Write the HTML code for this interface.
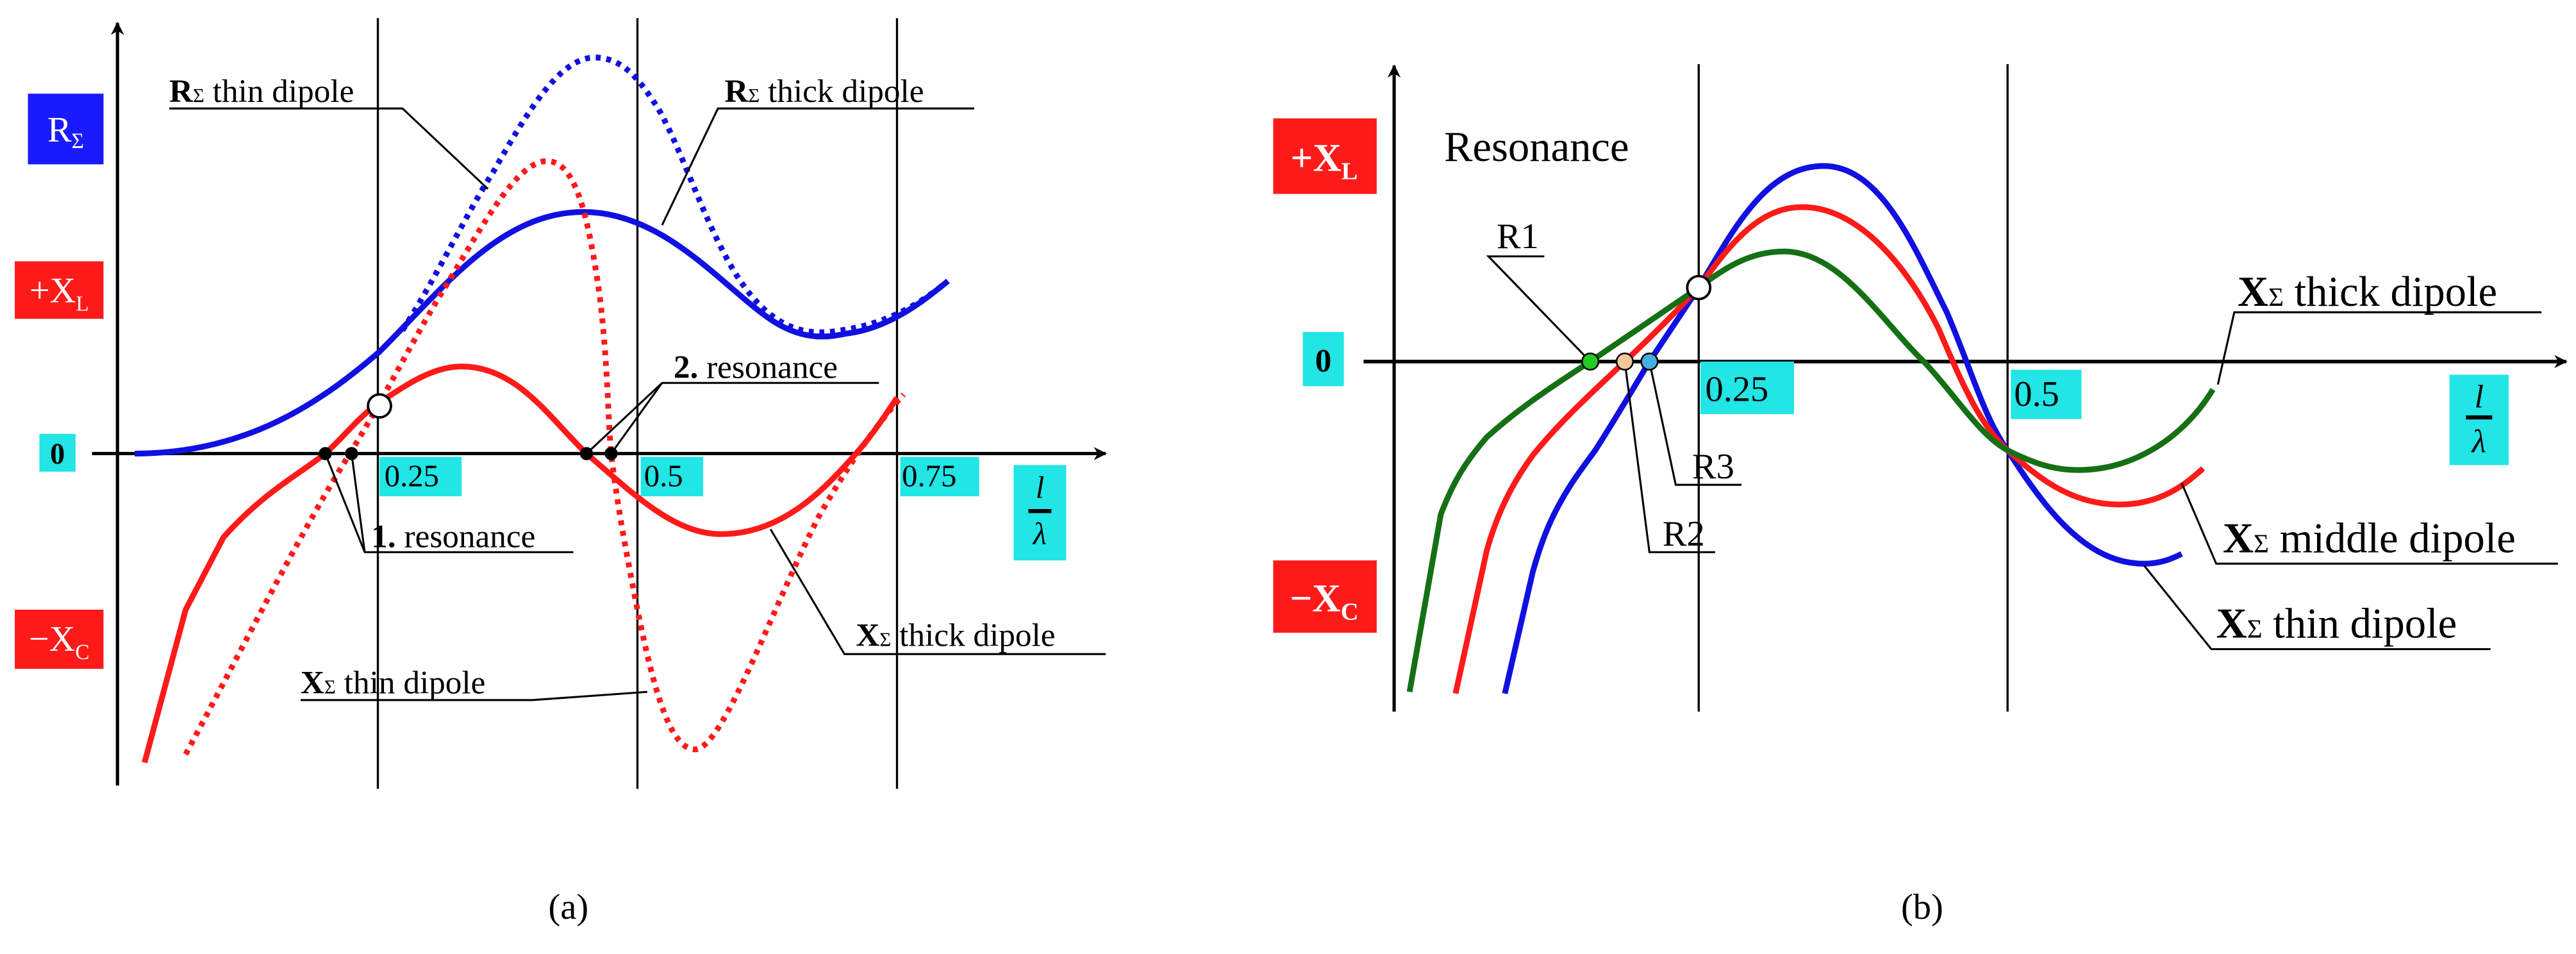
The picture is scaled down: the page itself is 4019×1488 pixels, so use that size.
<!DOCTYPE html>
<html><head><meta charset="utf-8"><style>
html,body{margin:0;padding:0;background:#fff;}
svg{display:block;}
text{font-family:"Liberation Serif",serif;}
</style></head><body>
<svg width="4019" height="1488" viewBox="0 0 1568 580.5" preserveAspectRatio="none" xmlns="http://www.w3.org/2000/svg" font-family="Liberation Serif, serif" style="font-family:'Liberation Serif',serif">
<defs>
<marker id="ar" viewBox="0 0 10 10" refX="9" refY="5" markerWidth="8" markerHeight="8" orient="auto" markerUnits="userSpaceOnUse"><path d="M0,0 L10,5 L0,10 L3,5 z" fill="#000"/></marker>
</defs>
<!-- ========== PANEL A ========== -->
<g stroke="#000" stroke-width="1.3" fill="none">
<line x1="230" y1="11" x2="230" y2="480"/>
<line x1="388" y1="11" x2="388" y2="480"/>
<line x1="546" y1="11" x2="546" y2="480"/>
</g>
<line x1="71.5" y1="478" x2="71.5" y2="14" stroke="#000" stroke-width="2" marker-end="url(#ar)"/>
<line x1="56" y1="276" x2="673" y2="276" stroke="#000" stroke-width="2" marker-end="url(#ar)"/>
<!-- boxes -->
<rect x="17" y="57" width="46" height="43" fill="#1a1aff"/>
<text x="40" y="86" fill="#fff" font-size="22" text-anchor="middle">R<tspan font-size="13" dy="4">Σ</tspan></text>
<rect x="9" y="159" width="54" height="35" fill="#ff1a1a"/>
<text x="36" y="184" fill="#fff" font-size="22" text-anchor="middle">+X<tspan font-size="13" dy="5">L</tspan></text>
<rect x="9" y="371" width="54" height="36" fill="#ff1a1a"/>
<text x="36" y="396" fill="#fff" font-size="22" text-anchor="middle">−X<tspan font-size="13" dy="5">C</tspan></text>
<rect x="24" y="264" width="22" height="23" fill="#22e5e5"/>
<text x="35" y="282" font-size="18" text-anchor="middle" font-weight="bold">0</text>
<rect x="231" y="278" width="50" height="24" fill="#22e5e5"/>
<text x="234" y="296" font-size="19">0.25</text>
<rect x="390" y="278" width="38" height="24" fill="#22e5e5"/>
<text x="392" y="296" font-size="19">0.5</text>
<rect x="548" y="278" width="48" height="24" fill="#22e5e5"/>
<text x="549" y="296" font-size="19">0.75</text>
<rect x="617" y="283" width="32" height="58" fill="#22e5e5"/>
<text x="633" y="303" font-size="19" font-style="italic" text-anchor="middle">l</text>
<line x1="626" y1="311" x2="640" y2="311" stroke="#000" stroke-width="2.5"/>
<text x="633" y="331" font-size="19" font-style="italic" text-anchor="middle">λ</text>
<!-- curves -->
<path d="M82,276 C150,276 195,245 231,214 C270,175 305,129 355,129 C405,129 440,175 470,195 C490,208 505,205 515,203 C540,200 560,185 577,171" stroke="#1010e0" stroke-width="3.5" fill="none"/>
<path d="M245,201 C265,170 285,128 300,105 C320,70 340,35 362,35 C380,35 390,50 400,65 C415,90 430,140 450,170 C470,200 490,205 512,201 C540,197 560,185 577,171" stroke="#1010e0" stroke-width="3.5" stroke-dasharray="3,3.5" fill="none"/>
<path d="M88,464 L113,371 L136,327 C160,300 180,290 198,276 C210,265 220,252 231,245 C250,232 265,223 281,223 C315,223 335,255 357,276 C385,300 410,325 439,325 C475,325 500,300 521,276 C530,266 538,254 546,242" stroke="#ff1a1a" stroke-width="3.5" fill="none"/>
<path d="M113,459 C150,390 185,320 213,276 C235,240 255,200 272,173 C295,135 315,98 333,98 C350,98 358,130 365,180 C370,220 370,255 372,276 C376,310 382,340 388,371 C398,420 408,456 423,456 C440,456 470,370 498,315 C515,285 532,260 550,240" stroke="#ff1a1a" stroke-width="3.5" stroke-dasharray="3,3.5" fill="none"/>
<circle cx="231" cy="247" r="7" fill="#fff" stroke="#000" stroke-width="1.5"/>
<g fill="#000"><circle cx="198" cy="276" r="4"/><circle cx="214" cy="276" r="4"/><circle cx="357" cy="276" r="4"/><circle cx="372" cy="276" r="4"/></g>
<!-- labels A -->
<g font-size="20">
<text x="103" y="62"><tspan font-weight="bold">R</tspan><tspan font-size="12">Σ</tspan> thin dipole</text>
<text x="441" y="62"><tspan font-weight="bold">R</tspan><tspan font-size="12">Σ</tspan> thick dipole</text>
<text x="410" y="230"><tspan font-weight="bold">2.</tspan> resonance</text>
<text x="226" y="333"><tspan font-weight="bold">1.</tspan> resonance</text>
<text x="521" y="393"><tspan font-weight="bold">X</tspan><tspan font-size="12">Σ</tspan> thick dipole</text>
<text x="183" y="422"><tspan font-weight="bold">X</tspan><tspan font-size="12">Σ</tspan> thin dipole</text>
</g>
<g stroke="#000" stroke-width="1.2" fill="none">
<path d="M103,66 H245 L297,115"/>
<path d="M593,66 H437 L403,137"/>
<path d="M535,233 H403 L357,276 M403,233 L372,276"/>
<path d="M349,336 H222 L198,276 M222,336 L214,276"/>
<path d="M673,398 H514 L469,322"/>
<path d="M183,426 H324 L394,421"/>
</g>
<text x="346" y="559" font-size="22" text-anchor="middle" font-family="Liberation Sans, sans-serif">(a)</text>
<!-- ========== PANEL B ========== -->
<g stroke="#000" stroke-width="1.3" fill="none">
<line x1="1034" y1="39" x2="1034" y2="433"/>
<line x1="1222" y1="39" x2="1222" y2="433"/>
</g>
<line x1="848.6" y1="433" x2="848.6" y2="40" stroke="#000" stroke-width="2" marker-end="url(#ar)"/>
<line x1="830" y1="220" x2="1562" y2="220" stroke="#000" stroke-width="2.2" marker-end="url(#ar)"/>
<rect x="775" y="72" width="63" height="46" fill="#ff1a1a"/>
<text x="806" y="104" fill="#fff" font-size="24" font-weight="bold" text-anchor="middle">+X<tspan font-size="15" dy="5">L</tspan></text>
<rect x="775" y="341" width="63" height="44" fill="#ff1a1a"/>
<text x="806" y="372" fill="#fff" font-size="24" font-weight="bold" text-anchor="middle">−X<tspan font-size="15" dy="5">C</tspan></text>
<rect x="793" y="202" width="25" height="33" fill="#22e5e5"/>
<text x="805.5" y="226" font-size="20" font-weight="bold" text-anchor="middle">0</text>
<rect x="1035" y="220" width="57" height="32" fill="#22e5e5"/>
<text x="1038" y="244" font-size="22">0.25</text>
<rect x="1224" y="225" width="43" height="30" fill="#22e5e5"/>
<text x="1226" y="247" font-size="22">0.5</text>
<rect x="1491" y="228" width="36" height="55" fill="#22e5e5"/>
<text x="1509" y="248" font-size="20" font-style="italic" text-anchor="middle">l</text>
<line x1="1501" y1="254" x2="1517" y2="254" stroke="#000" stroke-width="2.5"/>
<text x="1509" y="275" font-size="20" font-style="italic" text-anchor="middle">λ</text>
<text x="879" y="98" font-size="26">Resonance</text>
<path d="M916,422 L933,348 C938,330 943,318 949,307 C956,294 963,285 971,274 C982,257 992,240 1004,220 C1014,205 1024,190 1034,175 C1055,140 1075,101 1110,101 C1145,101 1165,150 1185,190 C1200,225 1208,255 1222,274 C1245,310 1270,343 1305,343 C1315,343 1322,340 1328,337" stroke="#1010e0" stroke-width="3.5" fill="none"/>
<path d="M886,422 L905,335 C912,310 922,292 933,277 C950,256 970,238 989,220 C1005,205 1020,190 1034,175 C1052,150 1070,126 1097,126 C1130,126 1160,160 1180,200 C1195,235 1205,258 1222,274 C1240,290 1260,307 1290,307 C1315,307 1330,295 1341,285" stroke="#ff1a1a" stroke-width="3.5" fill="none"/>
<path d="M858,421 L877,313 C885,292 893,280 905,266 C925,248 945,235 968,220 C990,205 1012,190 1034,175 C1050,163 1065,153 1086,153 C1120,153 1145,195 1171,220 C1190,240 1205,265 1222,274 C1238,282 1250,286 1265,286 C1300,286 1330,265 1347,237" stroke="#157015" stroke-width="3.5" fill="none"/>
<g stroke="#000" stroke-width="1.2" fill="none">
<path d="M940,156 H906 L968,220"/>
<path d="M1044,336 H1004 L989,220"/>
<path d="M1060,295 H1020 L1004,220"/>
<path d="M1547,190 H1360 L1350,234"/>
<path d="M1557,343 H1349 L1328,294"/>
<path d="M1516,395 H1346 L1305,344"/>
</g>
<circle cx="968" cy="220" r="5" fill="#22cc22" stroke="#000" stroke-width="1"/>
<circle cx="989" cy="220" r="5" fill="#f5c69a" stroke="#000" stroke-width="1"/>
<circle cx="1004" cy="220" r="5" fill="#44b0e0" stroke="#000" stroke-width="1"/>
<circle cx="1034" cy="175" r="7" fill="#fff" stroke="#000" stroke-width="1.5"/>
<g font-size="22">
<text x="911" y="151">R1</text>
<text x="1012" y="332">R2</text>
<text x="1030" y="291">R3</text>
</g>
<g font-size="26">
<text x="1362" y="186"><tspan font-weight="bold">X</tspan><tspan font-size="16">Σ</tspan> thick dipole</text>
<text x="1353" y="336"><tspan font-weight="bold">X</tspan><tspan font-size="16">Σ</tspan> middle dipole</text>
<text x="1349" y="388"><tspan font-weight="bold">X</tspan><tspan font-size="16">Σ</tspan> thin dipole</text>
</g>
<text x="1170" y="559" font-size="22" text-anchor="middle" font-family="Liberation Sans, sans-serif">(b)</text>
</svg>
</body></html>
